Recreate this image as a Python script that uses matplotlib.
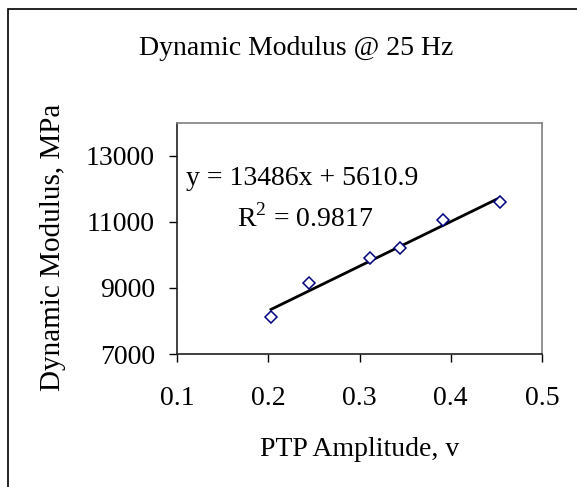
import matplotlib.pyplot as plt
from matplotlib.patches import Rectangle

# data
amplitude = [0.203, 0.245, 0.311, 0.344, 0.392, 0.454]
modulus = [8110, 9160, 9920, 10220, 11060, 11600]
slope, intercept = 13486, 5610.9
xticks = [0.1, 0.2, 0.3, 0.4, 0.5]
yticks = [7000, 9000, 11000, 13000]

plt.rcParams['font.family'] = ['Liberation Serif', 'DejaVu Serif']
plt.rcParams['mathtext.fontset'] = 'custom'
plt.rcParams['mathtext.rm'] = 'Liberation Serif'

fig = plt.figure(figsize=(5.77, 4.87), dpi=100)
W, H = 577.0, 487.0

# outer chart frame (left/top visible only)
fig.patches.append(Rectangle((8 / W, -0.1), 1.2, 1 - 9 / H + 0.1, transform=fig.transFigure,
                             fill=False, edgecolor='black', lw=1.2))

ax = fig.add_axes([177 / W, 1 - 354 / H, (542 - 177) / W, (354 - 122.7) / H])
ax.plot(amplitude, modulus, linestyle='none', marker='D', markersize=6,
        markerfacecolor='white', markeredgecolor='#000080', markeredgewidth=1.1, zorder=3)
x0, x1 = min(amplitude), max(amplitude)
ax.plot([x0, x1], [slope * x0 + intercept, slope * x1 + intercept], color='black', lw=2, zorder=2)

ax.set_xlim(0.1, 0.5)
ax.set_ylim(7000, 14000)
ax.set_xticks(xticks)
ax.set_xticklabels(['%.1f' % t for t in xticks])
ax.set_yticks(yticks)
ax.tick_params(direction='out', length=6, width=1, labelsize=20, pad=10)
ax.tick_params(axis='x', pad=17)
for s in ['top', 'right']:
    ax.spines[s].set_color('#808080')
for s in ['left', 'bottom']:
    ax.spines[s].set_color('#202020')
for s in ax.spines.values():
    s.set_linewidth(1.2)

fig.text(296 / W, 1 - 55 / H, 'Dynamic Modulus @ 25 Hz', ha='center', va='baseline', fontsize=20)
fig.text(360 / W, 1 - 456 / H, 'PTP Amplitude, v', ha='center', va='baseline', fontsize=20)
fig.text(53 / W, 1 - 247 / H, 'Dynamic Modulus, MPa', ha='center', va='center',
         rotation=90, fontsize=21)
fig.text(186 / W, 1 - 185 / H, 'y = 13486x + 5610.9', ha='left', va='baseline', fontsize=20)
fig.text(237 / W, 1 - 227 / H, r'R$^\mathrm{2}$ = 0.9817', ha='left', va='baseline', fontsize=20)

plt.savefig('out.png', dpi=100)
